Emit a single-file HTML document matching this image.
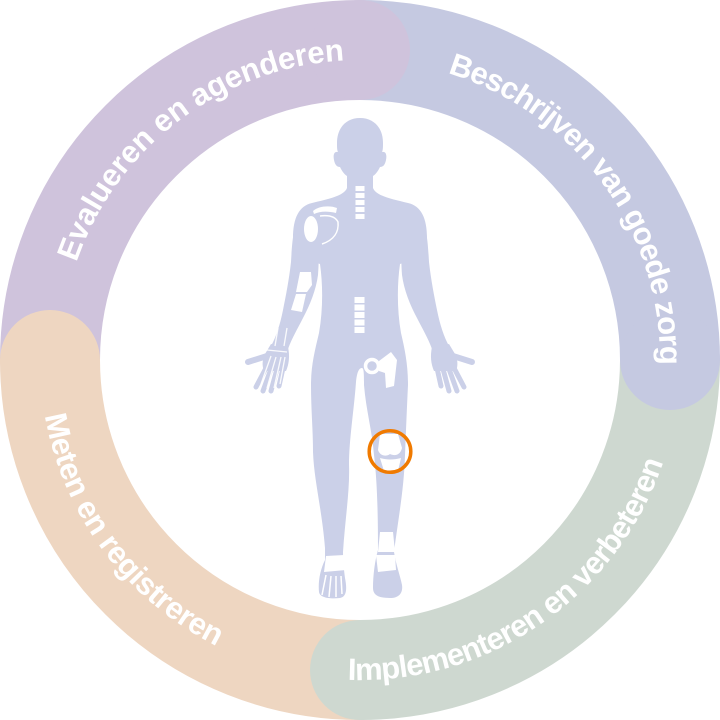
<!DOCTYPE html>
<html>
<head>
<meta charset="utf-8">
<style>
html,body{margin:0;padding:0;background:#fff;}
svg{display:block;}
text{font-family:"Liberation Sans",sans-serif;font-weight:bold;fill:#fff;font-size:31px;}
</style>
</head>
<body>
<svg width="720" height="720" viewBox="0 0 720 720" xmlns="http://www.w3.org/2000/svg">
  <defs>
    <path id="p1" d="M76.4,262.3 A300,300 0 0 1 412.1,64.6"/>
    <path id="p2" d="M447.7,73.1 A300,300 0 0 1 654.5,417.2"/>
    <path id="p3" d="M347.7,679.8 A320,320 0 0 0 676.9,404.5"/>
    <path id="p4" d="M44.9,415.6 A320,320 0 0 0 271.8,667.6"/>
  </defs>

  <!-- ring segments -->
  <g fill="none" stroke-width="100" stroke-linecap="butt">
    <path d="M360,50 A310,310 0 0 1 670,360" stroke="#c5c9e1"/>
    <path d="M670,360 A310,310 0 0 1 360,670" stroke="#ced8d0"/>
    <path d="M360,670 A310,310 0 0 1 50,360" stroke="#eed6c1"/>
    <path d="M50,360 A310,310 0 0 1 360,50" stroke="#cfc3dc"/>
  </g>
  <circle cx="670" cy="360" r="50" fill="#c5c9e1"/>
  <circle cx="360" cy="670" r="50" fill="#ced8d0"/>
  <circle cx="50" cy="360" r="50" fill="#eed6c1"/>
  <circle cx="360" cy="50" r="50" fill="#cfc3dc"/>

  <!-- labels -->
  <text><textPath href="#p1" textLength="356" lengthAdjust="spacing">Evalueren en agenderen</textPath></text>
  <text><textPath href="#p2" textLength="387" lengthAdjust="spacing">Beschrijven van goede zorg</textPath></text>
  <text><textPath href="#p3" textLength="411" lengthAdjust="spacing">Implementeren en verbeteren</textPath></text>
  <text><textPath href="#p4" textLength="298" lengthAdjust="spacing">Meten en registreren</textPath></text>

  <!-- human figure -->
  <g fill="#cbd0e8">
    <path d="M360,118 C374,118 383,128 383,143 C383,147 383,150 382,152 C386,151 387,155 386,160 C385,165 383,167 380,167 C378,171 376,174 373,176 L373,192 L347,192 L347,176 C344,174 342,171 340,167 C337,167 335,165 334,160 C333,155 334,151 338,152 C337,150 337,147 337,143 C337,128 346,118 360,118 Z"/>
    <path d="M347,188 C344,196 328,199 312,203 C299,206 293,218 293,238 C293,250 305,260 320,264
             C323,285 323,310 319,333 C315,350 311,365 311,385 C311,410 313,430 313,452
             C314,480 322,510 325,548 L325,560 C320,570 318,582 319,592 C320,598 330,599 340,598
             C347,597 347,588 345,578 C344,570 343,562 343,552 C345,520 350,490 349,465
             C349,440 354,410 356,382 C357,372 359,368 362,368 C364,368 364,375 364,385
             C366,410 372,430 374,455 C377,480 378,510 378,550 C375,560 373,575 373,588
             C373,596 380,598 390,598 C400,598 403,592 402,585 C400,575 396,565 394,552
             C398,520 404,490 405,455 C406,430 407,405 408,385 C408,365 405,350 401,333
             C397,310 397,285 400,264 C415,260 427,250 427,238 C427,218 421,206 408,203
             C392,199 376,196 373,188 Z"/>
    <g id="arm">
      <path d="M300,215 C293,225 292,245 291,262 C289,280 286,295 283,310 C280,325 276,337 271,346 L288,349 C292,338 298,328 303,318 C310,305 316,290 318,275 C319,262 319,250 316,240 Z"/>
      <path d="M271,344 L288,347 C290,356 289,364 286,371 L264,371 C262,366 262,360 265,354 Z"/>
      <g stroke="#cbd0e8" stroke-linecap="round" fill="none">
        <path d="M267,356 L248,362" stroke-width="6"/>
        <path d="M266,368 L256,387" stroke-width="5"/>
        <path d="M271,369 L263,391" stroke-width="5"/>
        <path d="M277,369 L271,391" stroke-width="5"/>
        <path d="M283,368 L279,386" stroke-width="5"/>
      </g>
    </g>
    <use href="#arm" transform="translate(720,0) scale(-1,1)"/>
  </g>

  <!-- bones -->
  <g fill="#fff">
    <rect x="355.5" y="186" width="9" height="5"/>
    <rect x="355.5" y="193" width="9" height="5"/>
    <rect x="355.5" y="200" width="9" height="5"/>
    <rect x="355.5" y="207" width="9" height="5"/>
    <rect x="355.5" y="214" width="9" height="5"/>
    <rect x="354.5" y="297" width="10" height="6"/>
    <rect x="354.5" y="304.5" width="10" height="6"/>
    <rect x="354.5" y="312" width="10" height="6"/>
    <rect x="354.5" y="319.5" width="10" height="6"/>
    <rect x="354.5" y="327" width="10" height="6"/>
    <path d="M313,211 C318,206 330,205 337,208 L336,213 C328,211 320,211 314,214 Z"/>
    <ellipse cx="311" cy="229" rx="7" ry="13"/>
    <path d="M320,216 C328,215 335,216 338,222 C339,232 334,240 322,244" fill="none" stroke="#fff" stroke-width="1.5"/>
    <path d="M300,272 L311,272 L312,285 L307,292 L296,292 Z"/>
    <path d="M296,294 L306,294 L302,312 L291,310 Z"/>
    <g stroke="#fff" stroke-width="1.3" fill="none" opacity="0.9">
      <path d="M278,328 L275,346"/><path d="M287,328 L284,346"/>
      <path d="M271,356 L261,384"/><path d="M276,357 L267,388"/><path d="M281,357 L274,388"/><path d="M285,357 L280,384"/>
      <path d="M267,350 L287,352"/>
    </g>
    <circle cx="372" cy="366" r="6.5" fill="none" stroke="#fff" stroke-width="3.5"/>
    <path d="M379,361 L391,352 L397,360 L394,386 L386,388 L385,373 L379,371 Z"/>
    <path d="M380,434 L398,434 L402,448 C400,456 394,456 390,454 C386,457 380,456 378,450 Z"/>
    <path d="M380,458 C386,460 394,460 401,458 L398,471 L384,471 Z"/>
    <path d="M380,532 L393,532 L395,552 L378,552 Z"/>
    <path d="M376,555 L395,555 L396,570 L378,572 Z"/>
    <path d="M326,556 L344,555 L346,570 L324,572 Z"/>
    <g stroke="#fff" stroke-width="1.5" fill="none">
      <path d="M326,575 L322,595"/><path d="M331,576 L329,597"/><path d="M336,576 L336,597"/><path d="M341,576 L342,594"/>
    </g>
  </g>

  <circle cx="390" cy="451.5" r="20.8" fill="none" stroke="#f07a00" stroke-width="3.5"/>
</svg>
</body>
</html>
